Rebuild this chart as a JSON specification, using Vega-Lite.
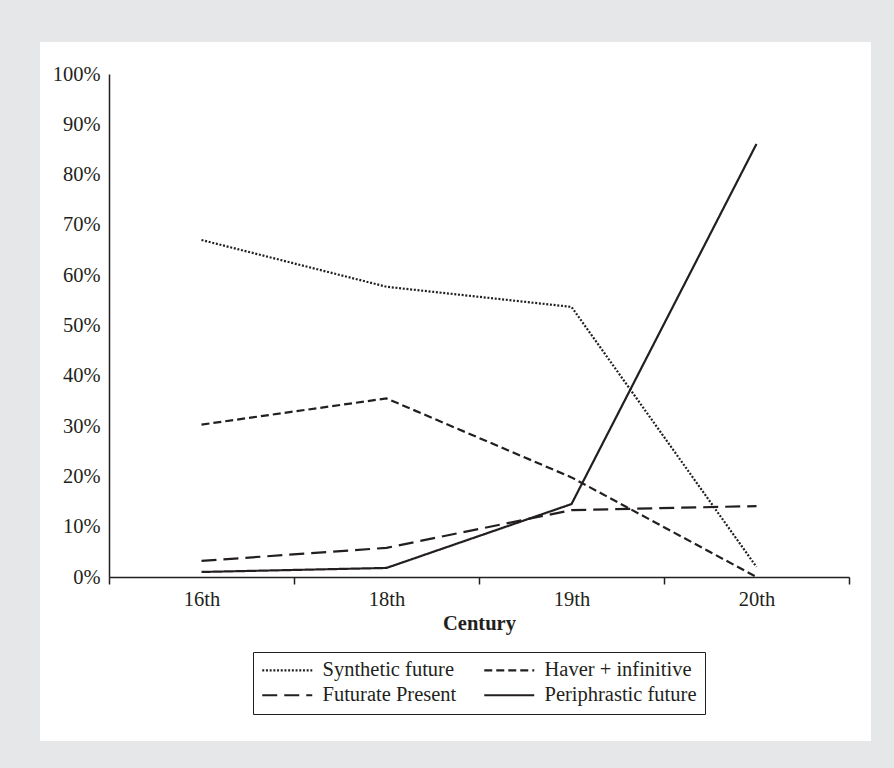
{
  "$schema": "https://vega.github.io/schema/vega-lite/v6.json",
  "width": 831,
  "height": 699,
  "autosize": {"type": "none"},
  "padding": {"left": 40, "top": 42, "right": 23, "bottom": 27},
  "background": "#e6e7e8",
  "config": {
    "view": {"fill": "white", "stroke": null},
    "font": "Liberation Serif"
  },
  "data": {
    "values": [
      {"century": "16th", "series": "Synthetic future", "share": 0.67},
      {"century": "18th", "series": "Synthetic future", "share": 0.577},
      {"century": "19th", "series": "Synthetic future", "share": 0.537},
      {"century": "20th", "series": "Synthetic future", "share": 0.02},
      {"century": "16th", "series": "Haver + infinitive", "share": 0.303},
      {"century": "18th", "series": "Haver + infinitive", "share": 0.355},
      {"century": "19th", "series": "Haver + infinitive", "share": 0.198},
      {"century": "20th", "series": "Haver + infinitive", "share": 0.0},
      {"century": "16th", "series": "Futurate Present", "share": 0.032},
      {"century": "18th", "series": "Futurate Present", "share": 0.058},
      {"century": "19th", "series": "Futurate Present", "share": 0.133},
      {"century": "20th", "series": "Futurate Present", "share": 0.141},
      {"century": "16th", "series": "Periphrastic future", "share": 0.01},
      {"century": "18th", "series": "Periphrastic future", "share": 0.018},
      {"century": "19th", "series": "Periphrastic future", "share": 0.145},
      {"century": "20th", "series": "Periphrastic future", "share": 0.861}
    ]
  },
  "mark": {"type": "line", "strokeWidth": 2.2, "color": "#231f20"},
  "encoding": {
    "x": {
      "field": "century",
      "type": "ordinal",
      "sort": ["16th", "18th", "19th", "20th"],
      "scale": {"type": "band", "range": [69, 809], "paddingInner": 0, "paddingOuter": 0},
      "axis": {
        "title": "Century",
        "offset": -164,
        "tickBand": "extent",
        "labelAngle": 0,
        "domainColor": "#231f20",
        "domainWidth": 1.5,
        "tickColor": "#231f20",
        "tickWidth": 1.5,
        "tickSize": 7,
        "labelFontSize": 20.5,
        "labelColor": "#231f20",
        "labelPadding": 5,
        "titleFontSize": 20.5,
        "titleFontWeight": "bold",
        "titleColor": "#231f20",
        "titlePadding": 4
      }
    },
    "y": {
      "field": "share",
      "type": "quantitative",
      "scale": {"domain": [0, 1], "range": [535, 32], "nice": false},
      "axis": {
        "title": null,
        "offset": -69,
        "format": ".0%",
        "values": [0, 0.1, 0.2, 0.3, 0.4, 0.5, 0.6, 0.7, 0.8, 0.9, 1],
        "grid": false,
        "ticks": false,
        "domainColor": "#231f20",
        "domainWidth": 1.5,
        "labelFontSize": 20.5,
        "labelColor": "#231f20",
        "labelPadding": 9
      }
    },
    "strokeDash": {
      "field": "series",
      "type": "nominal",
      "scale": {
        "domain": ["Synthetic future", "Haver + infinitive", "Futurate Present", "Periphrastic future"],
        "range": [[2, 1.7], [8, 4], [15, 7], [1, 0]]
      },
      "legend": {
        "title": null,
        "orient": "none",
        "legendX": 213,
        "legendY": 610,
        "columns": 2,
        "direction": "horizontal",
        "symbolType": "M-5,0H5",
        "symbolSize": 100,
        "symbolOffset": 16,
        "symbolStrokeWidth": 2.2,
        "symbolStrokeColor": "#231f20",
        "symbolFillColor": "transparent",
        "strokeColor": "#231f20",
        "fillColor": "white",
        "padding": 8,
        "rowPadding": 4,
        "columnPadding": 22,
        "labelOffset": 25,
        "labelFontSize": 20.5,
        "labelColor": "#231f20",
        "labelLimit": 300
      }
    }
  }
}
